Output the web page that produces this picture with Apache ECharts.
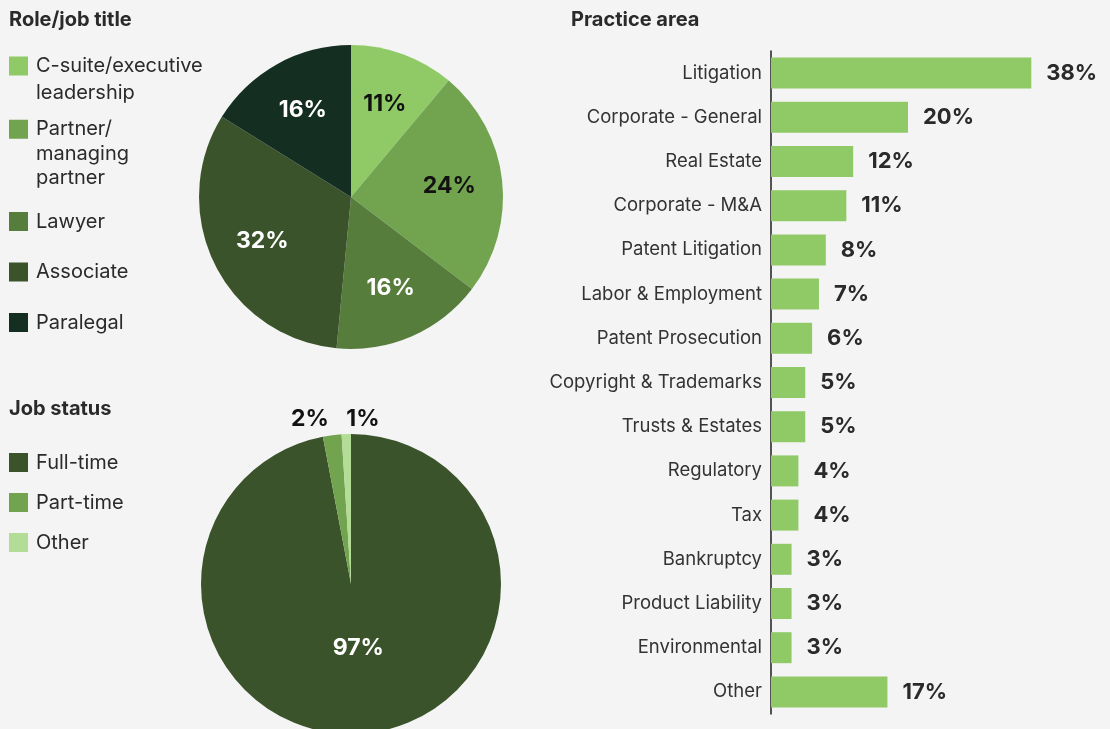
<!DOCTYPE html>
<html>
<head>
<meta charset="utf-8">
<script src="https://cdn.jsdelivr.net/npm/echarts@6/dist/echarts.min.js"></script>
<style>
  html, body { margin: 0; padding: 0; background: #f4f4f4; }
  #chart { width: 1110px; height: 729px; }
</style>
</head>
<body>
<div id="chart"></div>
<script>
// Survey breakdowns
const roleNames = ['C-suite/executive leadership', 'Partner/managing partner', 'Lawyer', 'Associate', 'Paralegal'];
const roleValues = [11, 24, 16, 32, 16];

const statusNames = ['Full-time', 'Part-time', 'Other'];
const statusValues = [97, 2, 1];

const practiceAreas = ['Litigation', 'Corporate - General', 'Real Estate', 'Corporate - M&A', 'Patent Litigation',
  'Labor & Employment', 'Patent Prosecution', 'Copyright & Trademarks', 'Trusts & Estates', 'Regulatory',
  'Tax', 'Bankruptcy', 'Product Liability', 'Environmental', 'Other'];
const practiceValues = [38, 20, 12, 11, 8, 7, 6, 5, 5, 4, 4, 3, 3, 3, 17];

// Styling
const FONT = 'Inter, "Noto Sans", sans-serif';
const TEXT = '#2a2a2a';
const roleColors = ['#8fca66', '#72a34f', '#577d3d', '#3b532b', '#142e21'];
const roleLabelColors = ['#111111', '#111111', '#ffffff', '#ffffff', '#ffffff'];
const statusColors = ['#3b532b', '#72a34f', '#b3dc97'];
const barColor = '#8fca66';

// Legend text: the icon sits beside the first line of wrapped names
const legendText = {
  'C-suite/executive leadership': '\nC-suite/executive\nleadership',
  'Partner/managing partner': '\n\nPartner/\nmanaging\npartner'
};

const chart = echarts.init(document.getElementById('chart'), null, { renderer: 'canvas' });

const pieLabelStyle = { fontFamily: FONT, fontSize: 23, fontWeight: 'bold' };
const titleStyle = { fontFamily: FONT, fontSize: 20, fontWeight: 'bold', color: TEXT, lineHeight: 22 };
const legendBase = {
  orient: 'vertical', left: 9, padding: 0,
  itemWidth: 19, itemHeight: 19, icon: 'rect',
  selectedMode: false,
  formatter: name => legendText[name] || name,
  textStyle: { fontFamily: FONT, fontSize: 20, color: TEXT, padding: [0, 0, 0, 3] }
};

const option = {
  backgroundColor: '#f4f4f4',
  animation: false,
  title: [
    { text: 'Role/job title', left: 9, top: 9, padding: 0, textStyle: titleStyle },
    { text: 'Job status', left: 9, top: 398, padding: 0, textStyle: titleStyle },
    { text: 'Practice area', left: 571, top: 9, padding: 0, textStyle: titleStyle }
  ],
  legend: [
    Object.assign({}, legendBase, { data: [roleNames[0]], top: 25.5,
      textStyle: Object.assign({}, legendBase.textStyle, { lineHeight: 27 }) }),
    Object.assign({}, legendBase, { data: [roleNames[1]], top: 68,
      textStyle: Object.assign({}, legendBase.textStyle, { lineHeight: 24.5 }) }),
    Object.assign({}, legendBase, { data: roleNames.slice(2), top: 211.5, itemGap: 30.5,
      textStyle: Object.assign({}, legendBase.textStyle, { lineHeight: 20 }) }),
    Object.assign({}, legendBase, { data: statusNames, top: 452.5, itemGap: 20,
      textStyle: Object.assign({}, legendBase.textStyle, { lineHeight: 20 }) })
  ],
  grid: { left: 771, top: 51, width: 274, height: 663, containLabel: false },
  xAxis: { type: 'value', min: 0, max: 40, show: false },
  yAxis: {
    type: 'category', data: practiceAreas, inverse: true,
    axisLine: { show: true, lineStyle: { color: '#1e1e1e', width: 1.5 } },
    axisTick: { show: false },
    splitLine: { show: false },
    axisLabel: { color: '#333333', fontFamily: FONT, fontSize: 18.5, margin: 9 }
  },
  series: [
    // Role/job title pie
    {
      type: 'pie', name: 'Role/job title',
      center: [351, 197], radius: [0, 152],
      startAngle: 90, clockwise: true,
      avoidLabelOverlap: false,
      label: { show: false }, labelLine: { show: false },
      itemStyle: { borderWidth: 0 },
      emphasis: { disabled: true },
      data: roleNames.map((n, i) => ({ name: n, value: roleValues[i], itemStyle: { color: roleColors[i] } }))
    },
    // Job status pie
    {
      type: 'pie', name: 'Job status',
      center: [351, 584], radius: [0, 150],
      startAngle: 90, clockwise: true,
      avoidLabelOverlap: false,
      labelLine: { show: false },
      itemStyle: { borderWidth: 0 },
      emphasis: { disabled: true },
      label: Object.assign({ show: true, formatter: '{c}%', color: '#111111', position: 'outside' }, pieLabelStyle),
      data: statusNames.map((n, i) => ({
        name: n, value: statusValues[i],
        itemStyle: { color: statusColors[i] },
        label: i === 0 ? { position: 'inside', color: '#ffffff' } : { position: 'outside' }
      })),
      labelLayout: function (p) {
        if (p.dataIndex === 0) return { dy: -14 };
        const edge = p.rect.x + p.rect.width;
        const shift = p.dataIndex === 1 ? -41 : 12;
        return { x: edge + shift, y: p.rect.y - 15, align: 'center', verticalAlign: 'middle' };
      }
    },
    // Percentage labels for the role pie, set further out than mid-radius
    {
      type: 'pie', name: 'Role labels', silent: true,
      center: [351, 197], radius: [40, 152],
      startAngle: 90, clockwise: true,
      avoidLabelOverlap: false,
      labelLine: { show: false },
      itemStyle: { color: 'rgba(0,0,0,0)', borderWidth: 0 },
      emphasis: { disabled: true },
      tooltip: { show: false },
      label: Object.assign({ show: true, position: 'inside', formatter: '{c}%' }, pieLabelStyle),
      data: roleNames.map((n, i) => ({ name: n, value: roleValues[i], label: { color: roleLabelColors[i] } }))
    },
    // Practice area bars
    {
      type: 'bar', name: 'Practice area',
      data: practiceValues,
      barWidth: 31,
      itemStyle: { color: barColor },
      emphasis: { disabled: true },
      label: { show: true, position: 'right', distance: 15, formatter: '{c}%',
        fontFamily: FONT, fontSize: 22, fontWeight: 'bold', color: TEXT }
    }
  ]
};

chart.setOption(option);
</script>
</body>
</html>
